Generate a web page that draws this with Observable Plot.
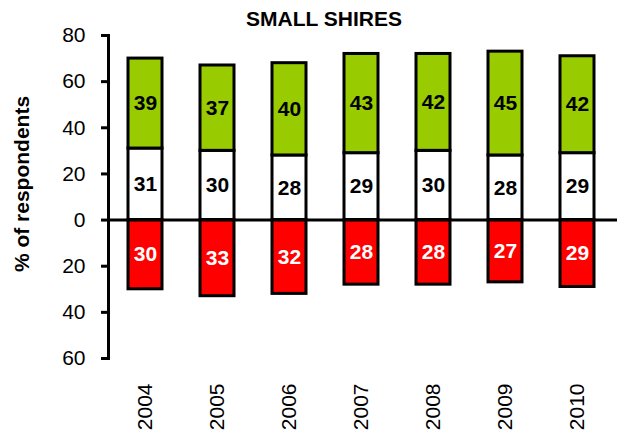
<!DOCTYPE html>
<html>
<head>
<meta charset="utf-8">
<script src="https://cdn.jsdelivr.net/npm/d3@7"></script>
<script src="https://cdn.jsdelivr.net/npm/@observablehq/plot@0.6"></script>
<style>
  html, body { margin: 0; padding: 0; background: #fff; }
  #wrap { position: relative; width: 623px; height: 432px; font-family: "Liberation Sans", Arial, sans-serif; }
  #title { position: absolute; top: 8px; left: 25px; width: 598px; text-align: center; font-weight: bold; font-size: 21px; line-height: 21px; color: #000; }
  #ylabel { position: absolute; left: 21px; top: 184px; width: 0; height: 0; }
  #ylabel span { position: absolute; left: 0; top: 0; transform: translate(-50%, -50%) rotate(-90deg); white-space: nowrap; font-weight: bold; font-size: 21px; line-height: 21px; color: #000; }
</style>
</head>
<body>
<div id="wrap"><div id="title">SMALL SHIRES</div><div id="ylabel"><span></span></div></div>
<script>
const years = ["2004", "2005", "2006", "2007", "2008", "2009", "2010"];
const positive = [39, 37, 40, 43, 42, 45, 42];   // green
const neutral = [31, 30, 28, 29, 30, 28, 29];    // white
const negative = [30, 33, 32, 28, 28, 27, 29];   // red (drawn below zero)
const yTicks = [-60, -40, -20, 0, 20, 40, 60, 80];
const yLabel = "% of respondents";

document.querySelector("#ylabel span").textContent = yLabel;

const seriesColors = {neutral: "#ffffff", positive: "#99cc00", negative: "#ff0000"};
const labelColors = {neutral: "#000000", positive: "#000000", negative: "#ffffff"};

const rows = [];
years.forEach((yr, i) => {
  rows.push({year: yr, series: "neutral", value: neutral[i]});
  rows.push({year: yr, series: "positive", value: positive[i]});
  rows.push({year: yr, series: "negative", value: -negative[i]});
});

const chart = Plot.plot({
  width: 623,
  height: 432,
  marginTop: 35,
  marginBottom: 74,
  marginLeft: 108,
  marginRight: 9,
  style: {fontFamily: "'Liberation Sans', Arial, sans-serif", fontSize: "21px", color: "#000", background: "transparent"},
  x: {domain: years, paddingInner: 0.53, paddingOuter: 0.265, label: null},
  y: {domain: [-60, 80], label: null},
  marks: [
    Plot.barY(rows, Plot.stackY({
      x: "year", y: "value", order: null,
      fill: d => seriesColors[d.series],
      stroke: "#000", strokeWidth: 3
    })),
    Plot.text(rows, Plot.stackY({
      x: "year", y: "value", order: null,
      text: d => String(Math.abs(d.value)),
      fill: d => labelColors[d.series],
      fontWeight: "bold", fontSize: 21
    })),
    Plot.ruleY([0], {stroke: "#000", strokeWidth: 3, insetRight: -3}),
    Plot.frame({anchor: "left", stroke: "#000", strokeWidth: 3}),
    Plot.axisY({ticks: yTicks, tickFormat: d => String(Math.abs(d)), tickSize: 7, tickPadding: 16, strokeWidth: 3, fontSize: 21, label: null}),
    Plot.axisX({tickSize: 0, tickPadding: 25, tickRotate: -90, fontSize: 21, label: null})
  ]
});
document.getElementById("wrap").appendChild(chart);
</script>
</body>
</html>
